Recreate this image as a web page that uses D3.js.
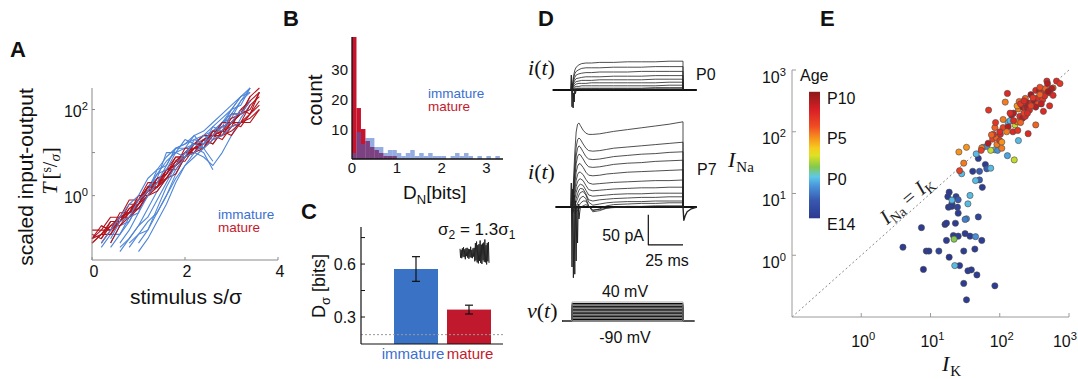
<!DOCTYPE html>
<html>
<head>
<meta charset="utf-8">
<script src="https://cdn.jsdelivr.net/npm/d3@7/dist/d3.min.js"></script>
<style>
html,body{margin:0;padding:0;background:#fff;}
svg{display:block;}
</style>
</head>
<body>
<svg id="fig" width="1078" height="379"></svg>
<script>
// ================= DATA =================
// ---- Panel A: scaled input-output curves T(s/sigma), sampled on sGrid
const sGrid = [0,0.2,0.4,0.6,0.8,1.0,1.2,1.4,1.6,1.8,2.0,2.2,2.4,2.6,2.8,3.0,3.2,3.4,3.6];
const aXTicks = [0,2,4];
const aYTicks = [1,10,100];
const aYExp = ["0","","2"];
const matureCurves = [
  [0.1,0.2,0.158,0.4,0.4,0.79,1.58,1.58,4,5,10,15.8,15.8,31.6,25,50,79,100,251],
  [0.079,0.126,0.2,0.2,0.4,0.5,1,2,2.5,5,10,10,20,15.8,31.6,50,40,79,158],
  [null,0.1,0.2,0.316,0.4,0.79,1.26,2.5,3.16,6.3,10,15.8,15.8,25,40,50,79,158,null],
  [0.126,0.1,0.25,0.25,0.63,0.63,1.58,1.58,4,4,7.9,12.6,15.8,25,20,40,100,79,251],
  [null,null,0.079,0.2,0.316,0.63,1,1.58,2.5,5,7.9,12.6,15.8,25,31.6,40,50,79,126],
  [0.1,0.126,0.126,0.316,0.4,0.63,1.58,1.58,3.16,7.9,7.9,15.8,25,25,50,50,100,158,null],
  [null,0.079,0.158,0.25,0.4,0.5,1,1.58,2.5,5,7.9,10,12.6,20,25,31.6,50,63,100],
  [0.158,0.158,0.316,0.316,0.79,0.79,2,2,4,7.9,7.9,15.8,12.6,31.6,31.6,63,79,200,316],
  [0.1,0.158,0.158,0.316,0.316,0.5,1,1.26,2.5,3.16,7.9,10,20,15.8,31.6,25,50,50,100],
  [null,null,0.126,0.25,0.5,0.79,1.58,2,3.16,6.3,10,12.6,20,25,40,50,79,200,null],
  [0.079,0.126,0.25,0.25,0.5,0.63,1.26,1.58,4,5,12.6,12.6,20,25,25,50,50,126,200],
  [null,0.2,0.158,0.316,0.4,1,1,2.5,3.16,6.3,6.3,12.6,12.6,25,31.6,79,79,158,251]
];
const immatureCurves = [
  [null,null,0.063,0.126,0.25,0.63,1.58,3.16,6.3,10,12.6,15.8,20,31.6,50,79,158,316,null],
  [null,0.063,0.126,0.126,0.316,0.4,1.58,2.5,10,10,20,15.8,25,20,50,63,158,251,null],
  [null,null,null,0.05,0.1,0.2,0.5,1.26,2.5,6.3,10,15.8,25,31.6,50,100,200,null,null],
  [null,null,null,null,0.079,0.126,0.25,0.4,1,3.16,7.9,12.6,10,4,null,null,null,null,null],
  [null,null,0.079,0.2,0.25,0.63,1.26,4,5,12.6,12.6,25,12.6,31.6,40,100,126,316,null],
  [null,null,null,null,null,0.079,0.158,0.4,1,2.5,5,10,7.9,5,10,25,63,126,null],
  [null,0.079,0.158,0.316,0.63,1,2.5,4,7.9,12.6,15.8,20,25,40,63,100,200,251,null],
  [null,null,null,0.063,0.1,0.2,0.316,0.79,2,5,10,15.8,12.6,6.3,null,null,null,null,null],
  [null,null,0.1,0.25,0.316,0.79,1.26,3.16,4,10,7.9,20,15.8,40,31.6,79,79,158,null],
  [null,null,null,null,0.063,0.126,0.158,0.5,1.58,4,7.9,10,15.8,25,40,50,100,null,null],
  [null,null,null,0.079,0.158,0.4,1,2,5,12.6,15.8,25,31.6,50,79,126,200,316,null],
  [null,null,null,null,null,0.05,0.1,0.25,0.63,2,5,7.9,12.6,20,25,40,50,null,null]
];

// ---- Panel B: histograms of D_N (bins of 0.1 bits)
const binWidth = 0.1;
const matureCounts = [45,17,10,6,4,3,2,1,1,1];
const immatureCounts = [2,9,5,7,7,4,4,2,3,3,2,1,2,3,1,2,1,2,1,1,1,0,1,2,1,2,1,0,1,0,1,0,1];
const bXTicks = [0,1,2,3];
const bYTicks = [10,20,30];

// ---- Panel C: D_sigma bars
const groups = ["immature","mature"];
const dSigma = [0.572, 0.342];
const dSigmaErr = [0.07, 0.025];
const chanceLevel = 0.2;
const cYTicks = [0.3,0.45,0.6,0.75];
const cYLabels = ["0.3","","0.6",""];
const noiseTrace = [0.8,-0.9,0.6,-1.0,0.9,-0.7,1.1,-0.8,0.7,-1.2,0.9,-0.6,1.0,-0.9,0.8,-1.1,0.7,-0.8,1.2,-0.9,0.6,-1.0,0.9,-0.7,1.0,
  -1.6,1.9,-1.4,2.2,-1.8,1.5,-2.0,1.7,-1.5,2.4,-1.9,1.6,-2.1,1.8,-1.4,2.0,-1.7,2.6,-1.8,1.5,-2.2,1.9,-1.6,2.1,-1.9];

// ---- Panel D: whole-cell currents (pA) vs time (ms)
const tP0 = [0,1,2,3,5,7,10,14,20,30,40,50,60,70,80,80];
const p0Traces = [
  [0,22,33,38,42,44,45,45,46,46,47,47,47,48,48,0],
  [0,18,27,31,34,36,37,37,37,38,38,38,39,39,39,0],
  [0,14,21,25,27,28,29,29,30,30,30,31,31,31,31,0],
  [0,11,16,19,20,21,22,22,22,23,23,23,24,24,24,0],
  [0,8,12,14,15,16,16,16,17,17,17,17,18,18,18,0],
  [0,5,8,10,11,11,11,12,12,12,12,12,12,13,13,0],
  [0,3,5,6,6,7,7,7,7,7,7,7,7,8,8,0],
  [0,2,3,3,3,3,3,3,3,3,3,3,4,4,4,0],
  [0,1,1,2,2,2,2,2,2,2,2,2,2,2,2,0],
  [0,0,1,1,1,1,1,1,1,1,1,1,1,1,1,0]
];
const spikeP0T = [-1,-0.5,0,0.4,0.8,1.2,1.6,2.0,2.5,3];
const spikeP0V = [0,25,-28,10,-30,-5,-20,2,-6,0];
const tP7 = [0,1,2,3,4,5,6,8,10,12,15,20,25,30,40,50,60,70,80,80];
const p7Traces = [
  [0,40,90,125,138,140,136,128,123,121,121,122,124,126,129,132,135,138,142,0],
  [0,30,70,100,112,115,113,105,98,94,93,94,96,98,100,102,104,106,108,0],
  [0,25,58,85,98,102,100,92,84,80,79,80,82,84,86,88,89,91,92,0],
  [0,20,48,72,84,88,87,80,72,67,66,67,69,71,73,74,76,77,78,0],
  [0,15,38,58,68,72,72,66,58,53,52,53,55,56,58,59,60,61,62,0],
  [0,10,28,44,54,58,58,54,46,40,38,39,40,41,42,43,44,44,45,0],
  [0,6,20,34,42,46,47,44,36,29,27,28,29,30,31,32,32,33,33,0],
  [0,3,12,24,32,36,38,36,28,20,18,19,20,21,22,22,23,23,23,0],
  [0,0,6,14,22,28,31,30,22,12,10,12,13,14,15,16,16,17,17,0],
  [0,-2,2,8,14,20,24,26,20,8,3,5,7,8,9,9,10,10,10,0],
  [0,-4,-2,2,6,10,15,18,14,2,-6,-3,2,4,5,6,6,7,7,0],
  [0,-6,-6,-4,-1,2,6,10,10,2,-8,-6,-2,0,1,1,2,2,2,0],
  [0,-8,-10,-8,-5,-3,-1,2,4,1,-5,-4,-2,-1,0,0,0,0,0,0]
];
const spikeP7T = [-1,-0.5,0,0.5,1,1.5,2,2.5,3,3.5,4,4.5,5,6];
const spikeP7V = [0,40,-100,30,-118,20,-112,10,-90,0,-60,5,-20,0];
const tailP7T = [80,80.6,81.5,83,86,90];
const tailP7V = [0,-22,-15,-8,-3,0];
const stepLevels = [-90,-80,-70,-60,-50,-40,-30,-20,-10,0,10,20,30,40];
const scaleBarT = [55,80];      // 25 ms
const scaleBarI = [-63,-13];    // 50 pA

// ---- Panel E: I_K, I_Na, age (days rel. to birth)
const ikValues = [4.0,7.4,7.9,8.7,9.5,13.2,16.2,17,17,18.6,
  18.2,20.4,24.5,21.4,25.1,22.9,25.1,26.3,30.2,30.2,
  31.6,33.1,34.7,38.9,37.2,43.7,46.8,49,55,85,
  18.6,17.8,23.4,56,40.7,51,51,49,62,65,
  25.1,20.4,34.7,22.4,44.7,33.1,31.6,21.9,20.4,37.2,
  44.7,28.2,45.7,57.5,65,74,85,93,132,141,
  186,129,74,166,162,25.7,26.3,30.2,33.1,55,
  68,91,79,89,100,107,107,81,102,85,
  112,132,178,155,182,257,331,148,195,214,
  234,186,214,234,251,69,87,120,129,178,
  191,234,251,288,316,355,417,427,331,372,
  417,457,525,589,589,479,490,661,741,525,
  282,355,224,158,269,398,302,562,380,200,
  141,112,100,76,54,251,331,200,447,380,
  282,501,158,126,224];
const naValues = [1.35,2.8,0.59,1.17,1.17,1.17,3.16,3.31,1.74,0.93,
  6.0,6.2,6.0,2.09,2.04,3.3,4.8,0.68,1.17,0.35,
  2.24,0.19,0.56,0.58,2.04,1.26,0.48,4.17,1.74,0.32,
  10.5,8.9,8.9,12.6,22.9,22.9,16.6,37,29.5,25.1,
  7.9,6.9,6.8,0.68,2.0,3.9,3.8,1.82,7.8,9.3,
  16.2,20.9,43.7,56,58,25.7,51,50,141,151,
  72,41,50,129,35,47,23.4,31,56,55,
  65,62,76,81,72,68,54,91,91,117,
  117,120,145,100,105,93,129,186,178,166,
  178,234,251,234,245,224,141,302,417,263,
  309,347,295,295,316,355,331,214,468,457,
  417,501,427,513,389,661,603,661,603,263,
  398,282,200,200,224,282,355,501,525,141,
  200,158,100,89,50,200,251,282,380,398,
  263,447,151,100,316];
const ageValues = [-4.5,-4.5,-5,-4.5,-4.5,-4,-4.5,-4.5,-4.5,-5,
  -4.5,-4.5,-4,-4.5,-4.5,-4.5,-4.5,-4.5,-4.5,-4.5,
  -4.5,-4.5,-4.5,-4.5,-4.5,-4.5,-4.5,-4,-4.5,-4.5,
  -4.5,-4.5,-4,-4.5,-4.5,-2.5,-2.5,-4.5,-4.5,-2.5,
  -2.5,-4.5,0,0,-1,-1,-1.5,1.5,0,0,
  0,0,0,0,-1,0,0,-1,0,0,
  0,-0.5,2.5,2.5,2.5,5,7,5.5,5,5.5,
  9.5,5.5,7,6,7.5,5,5.5,8,8,6,
  7,9.5,5.5,8,7.5,8,6,10,8,9.5,
  8,5.5,10,8,9.5,7.5,7.5,5.5,8,5,
  6,6,9.5,8,10,8,7.5,8,8,9.5,
  8,6,7.5,6,8,8,9.5,8,7.5,8,
  10,6.5,7,9.5,8,9,7.5,9.5,6.5,6,
  8,5.5,8,6,7,8,9.5,7.5,8,6,
  7,10,8,5.5,8];
const eTicks = [0.1,1,10,100,1000];
const eExp = ["","0","1","2","3"];
const ageTicks = [-5.5,0,5,10];
const ageLabels = ["E14","P0","P5","P10"];
const cmapAge = [-4.8,-2.6,-0.8,0.3,1.5,2.9,3.8,5.0,6.5,8.5,10.7];
const cmapColor = ["#2b3990","#3858b0","#4a96dc","#5ec9e6","#84c94c","#dfe123","#f6cc1f","#f7941d","#ef4b23","#d81f26","#8b1a1a"];

// ================= DRAWING =================
const svg = d3.select("#fig");
const SANS = '"Liberation Sans", Arial, Helvetica, sans-serif';
const SERIF = '"Liberation Serif", "Times New Roman", serif';
const BLUE_LINE = "#4f86d8", RED_LINE = "#b3141e";
const BLUE_TXT = "#3b6fd0", RED_TXT = "#c41a2c";
const W = 1078;

function txt(x, y, s, o = {}) {
  const t = svg.append("text").attr("x", x).attr("y", y)
    .attr("font-family", o.family || SANS).attr("font-size", o.size || 16)
    .attr("fill", o.fill || "#111").attr("text-anchor", o.anchor || "start");
  if (o.weight) t.attr("font-weight", o.weight);
  if (o.style) t.attr("font-style", o.style);
  if (s != null) t.text(s);
  return t;
}
function powText(x, y, exp, anchor, size) {
  const t = txt(x, y, null, {size: size, anchor: anchor});
  t.append("tspan").text("10");
  t.append("tspan").attr("dy", -7).attr("font-size", size * 0.7).text(exp);
  return t;
}
function hline(x1, x2, y, col, w) {
  svg.append("line").attr("x1", x1).attr("x2", x2).attr("y1", y).attr("y2", y)
    .attr("stroke", col).attr("stroke-width", w || 1);
}
function vline(x, y1, y2, col, w) {
  svg.append("line").attr("x1", x).attr("x2", x).attr("y1", y1).attr("y2", y2)
    .attr("stroke", col).attr("stroke-width", w || 1);
}

// Panel letters
txt(10, 57, "A", {size: 22, weight: "bold"});
txt(283, 26, "B", {size: 22, weight: "bold"});
txt(301, 219, "C", {size: 22, weight: "bold"});
txt(538, 26, "D", {size: 22, weight: "bold"});
txt(820, 26, "E", {size: 22, weight: "bold"});

// ---------- Panel A ----------
const xA = d3.scaleLinear().domain([0, 4]).range([92, 278]);
const yA = d3.scaleLog().domain([0.032, 316]).range([260, 88]);
const lineA = d3.line().defined(d => d[1] != null).x(d => xA(d[0])).y(d => yA(d[1]));
function drawCurve(c, col) {
  svg.append("path").datum(sGrid.map((s, i) => [s, c[i]])).attr("d", lineA)
    .attr("fill", "none").attr("stroke", col).attr("stroke-width", 1.1).attr("stroke-linejoin", "round");
}
immatureCurves.slice(0, 6).forEach(c => drawCurve(c, BLUE_LINE));
matureCurves.forEach(c => drawCurve(c, RED_LINE));
immatureCurves.slice(6).forEach(c => drawCurve(c, BLUE_LINE));
const axCol = "#8a8a8a";
vline(xA(0), yA.range()[0], yA.range()[1], axCol);
hline(xA(0), xA(4), yA.range()[0], axCol);
aXTicks.forEach(v => {
  vline(xA(v), 260, 257, axCol);
  txt(xA(v) + 2, 277, String(v), {size: 16, anchor: "middle"});
});
aYTicks.forEach((v, i) => {
  hline(92, 95, yA(v), axCol);
  if (aYExp[i]) powText(88, yA(v) + 7.5, aYExp[i], "end", 16);
});
txt(0, 0, "scaled input-output", {size: 21, anchor: "middle"}).attr("transform", "translate(33,177) rotate(-90)");
{
  const t = svg.append("text").attr("transform", "translate(57,171) rotate(-90)")
    .attr("text-anchor", "middle").attr("font-family", SERIF).attr("fill", "#111");
  t.append("tspan").attr("font-size", 22).attr("font-style", "italic").text("T");
  t.append("tspan").attr("font-size", 21).attr("dx", 3).text("[");
  t.append("tspan").attr("font-size", 14).attr("dy", -6).text("s");
  t.append("tspan").attr("font-size", 20).attr("dy", 6).text("/");
  t.append("tspan").attr("font-size", 15).attr("font-style", "italic").attr("dy", 3).text("σ");
  t.append("tspan").attr("font-size", 21).attr("dy", -3).text("]");
}
txt(186, 304, "stimulus s/σ", {size: 21, anchor: "middle"});
txt(218, 219, "immature", {size: 13.5, fill: BLUE_TXT});
txt(218, 232, "mature", {size: 13.5, fill: RED_TXT});

// ---------- Panel B ----------
const xB = d3.scaleLinear().domain([0, 3.37]).range([352, 503]);
const yB = d3.scaleLinear().domain([0, 40.7]).range([159, 37]);
const bTop = yB.domain()[1];
svg.append("g").selectAll("rect").data(matureCounts).join("rect")
  .attr("x", (d, i) => xB(i * binWidth)).attr("width", xB(binWidth) - xB(0))
  .attr("y", d => yB(Math.min(d, bTop))).attr("height", d => yB(0) - yB(Math.min(d, bTop)))
  .attr("fill", "#c8132d");
svg.append("g").selectAll("rect").data(immatureCounts).join("rect")
  .attr("x", (d, i) => xB(i * binWidth)).attr("width", xB(binWidth) - xB(0))
  .attr("y", d => yB(d)).attr("height", d => yB(0) - yB(d))
  .attr("fill", "#3d68c6").attr("fill-opacity", 0.55);
vline(352, 37, 159, "#111", 1.3);
hline(352, 503, 159, "#111", 1.3);
bYTicks.forEach(v => txt(348, yB(v) + 5.5, String(v), {size: 15, anchor: "end"}));
bXTicks.forEach(v => txt(xB(v), 173, String(v), {size: 15, anchor: "middle"}));
txt(0, 0, "count", {size: 21, anchor: "middle"}).attr("transform", "translate(322,100) rotate(-90)");
{
  const t = txt(403, 199, null, {size: 19});
  t.append("tspan").text("D");
  t.append("tspan").attr("font-size", 13).attr("dy", 5).text("N");
  t.append("tspan").attr("dy", -5).text("[bits]");
}
txt(428, 98, "immature", {size: 13.5, fill: BLUE_TXT});
txt(428, 111, "mature", {size: 13.5, fill: RED_TXT});

// ---------- Panel C ----------
const yC = d3.scaleLinear().domain([0.147, 0.81]).range([344, 227]);
const xC = d3.scaleBand().domain(groups).range([394, 491]).paddingInner(0.17);
const barCols = ["#3a72c6", "#c0182d"];
groups.forEach((g, i) => {
  svg.append("rect").attr("x", xC(g)).attr("width", xC.bandwidth())
    .attr("y", yC(dSigma[i])).attr("height", yC.range()[0] - yC(dSigma[i])).attr("fill", barCols[i]);
  const cx = xC(g) + xC.bandwidth() / 2;
  vline(cx, yC(dSigma[i] - dSigmaErr[i]), yC(dSigma[i] + dSigmaErr[i]), "#111", 1.2);
  hline(cx - 4, cx + 4, yC(dSigma[i] - dSigmaErr[i]), "#111", 1.2);
  hline(cx - 4, cx + 4, yC(dSigma[i] + dSigmaErr[i]), "#111", 1.2);
  txt(cx + (i === 0 ? -3 : 1), 359, g, {size: 15, anchor: "middle", fill: i === 0 ? BLUE_TXT : RED_TXT});
});
svg.append("line").attr("x1", 361).attr("x2", 503).attr("y1", yC(chanceLevel)).attr("y2", yC(chanceLevel))
  .attr("stroke", "#999").attr("stroke-width", 1).attr("stroke-dasharray", "2,2");
vline(361, 227, 344, "#111", 1.2);
hline(361, 503, 344, "#111", 1.2);
cYTicks.forEach((v, i) => {
  hline(361, 365, yC(v), "#111", 1);
  if (cYLabels[i]) txt(356, yC(v) + 5.5, cYLabels[i], {size: 16, anchor: "end"});
});
{
  const t = svg.append("text").attr("transform", "translate(325,286) rotate(-90)")
    .attr("text-anchor", "middle").attr("font-family", SANS).attr("font-size", 18).attr("fill", "#111");
  t.append("tspan").text("D");
  t.append("tspan").attr("font-size", 13).attr("dy", 5).text("σ");
  t.append("tspan").attr("dy", -5).text(" [bits]");
}
{
  const t = txt(438, 235, null, {size: 17});
  t.append("tspan").text("σ");
  t.append("tspan").attr("font-size", 12).attr("dy", 4).text("2");
  t.append("tspan").attr("dy", -4).text(" = 1.3σ");
  t.append("tspan").attr("font-size", 12).attr("dy", 4).text("1");
}
const xN = d3.scaleLinear().domain([0, noiseTrace.length - 1]).range([460, 489]);
const yN = d3.scaleLinear().domain([-2.5, 2.5]).range([266, 240]);
svg.append("path").datum(noiseTrace).attr("d", d3.line().x((d, i) => xN(i)).y(d => yN(d)))
  .attr("fill", "none").attr("stroke", "#222").attr("stroke-width", 1);

// ---------- Panel D ----------
const xD = d3.scaleLinear().domain([0, 80]).range([572, 683]);
const yP0 = d3.scaleLinear().domain([-40, 60]).range([114, 54]);
const yP7 = d3.scaleLinear().domain([-120, 150]).range([279, 117]);
const yV = d3.scaleLinear().domain([-90, 40]).range([321, 302]);
const trCol = "#222";
function trace(ts, vs, ys, w, col) {
  svg.append("path").datum(ts.map((t, i) => [t, vs[i]]))
    .attr("d", d3.line().x(d => xD(d[0])).y(d => ys(d[1])))
    .attr("fill", "none").attr("stroke", col || trCol).attr("stroke-width", w || 0.8).attr("stroke-linejoin", "round");
}
// P0
trace([-14, 90], [0, 0], yP0, 2.2, "#111");
p0Traces.forEach(v => trace(tP0, v, yP0, 0.8));
trace(spikeP0T, spikeP0V, yP0, 1);
// P7
trace([-12, 90], [0, 0], yP7, 2.2, "#111");
p7Traces.forEach(v => trace(tP7, v, yP7, 0.8));
trace(spikeP7T, spikeP7V, yP7, 1);
trace(tailP7T, tailP7V, yP7, 1.4);
// scale bar
trace([scaleBarT[0], scaleBarT[0], scaleBarT[1]], [scaleBarI[1], scaleBarI[0], scaleBarI[0]], yP7, 1.2, "#111");
txt(644, 241, "50 pA", {size: 16, anchor: "end"});
txt(667, 266, "25 ms", {size: 16, anchor: "middle"});
// voltage steps
trace([-7, 88], [-90, -90], yV, 1.2, "#111");
stepLevels.slice(1).forEach((v, i, arr) => {
  trace([-7, 0, 0, 80, 80, 88], [-90, -90, v, v, -90, -90], yV, 1, i === arr.length - 1 ? "#aaa" : "#000");
});
txt(625, 297, "40 mV", {size: 16, anchor: "middle"});
txt(625, 343, "-90 mV", {size: 16, anchor: "middle"});
function fnLabel(x, y, f) {
  const t = txt(x, y, null, {size: 22, family: SERIF});
  t.append("tspan").attr("font-style", "italic").text(f);
  t.append("tspan").text("(");
  t.append("tspan").attr("font-style", "italic").text("t");
  t.append("tspan").text(")");
}
fnLabel(528, 75, "i");
fnLabel(528, 179, "i");
fnLabel(527, 318, "v");
txt(696, 80, "P0", {size: 16});
txt(697, 175, "P7", {size: 16});

// ---------- Panel E ----------
const xE = d3.scaleLog().domain([0.1, 1000]).range([792, 1069]);
const yE = d3.scaleLog().domain([0.1, 1000]).range([317, 70]);
const eAx = "#9a9a9a";
svg.append("line").attr("x1", xE(0.1)).attr("y1", yE(0.1)).attr("x2", xE(1000)).attr("y2", yE(1000))
  .attr("stroke", "#888").attr("stroke-width", 1).attr("stroke-dasharray", "2,2.5");
vline(792, 70, 317, eAx);
hline(792, 1069, 317, eAx);
eTicks.forEach((v, i) => {
  if (!eExp[i]) return;
  hline(792, 796, yE(v), eAx);
  vline(xE(v), 317, 313, eAx);
  powText(786, yE(v) + 12.5, eExp[i], "end", 16);
  const lx = Math.min(xE(v) + 14, W - 1);
  powText(lx, 347, eExp[i], "end", 16);
});
const ageColor = d3.scaleLinear().domain(cmapAge).range(cmapColor).interpolate(d3.interpolateRgb);
svg.append("g").selectAll("circle").data(ikValues.map((k, i) => i)).join("circle")
  .attr("cx", i => xE(ikValues[i])).attr("cy", i => yE(naValues[i])).attr("r", 3.1)
  .attr("fill", i => ageColor(ageValues[i])).attr("stroke", "#4a4a4a").attr("stroke-width", 0.6);
// colorbar
const yAge = d3.scaleLinear().domain([-5.5, 10]).range([224, 97.5]);
const aMin = cmapAge[0], aMax = cmapAge[cmapAge.length - 1];
const grad = svg.append("defs").append("linearGradient").attr("id", "ageGrad")
  .attr("x1", 0).attr("y1", 1).attr("x2", 0).attr("y2", 0);
cmapAge.forEach((a, i) => grad.append("stop").attr("offset", (a - aMin) / (aMax - aMin)).attr("stop-color", cmapColor[i]));
svg.append("rect").attr("x", 809).attr("width", 11).attr("y", yAge(aMax)).attr("height", yAge(aMin) - yAge(aMax))
  .attr("fill", "url(#ageGrad)");
ageTicks.forEach((a, i) => txt(827, yAge(a) + 6, ageLabels[i], {size: 16}));
txt(800, 81, "Age", {size: 16});
{
  const t = txt(728, 167, null, {size: 22, family: SERIF});
  t.append("tspan").attr("font-style", "italic").text("I");
  t.append("tspan").attr("font-size", 15).attr("dy", 5).attr("dx", 1).text("Na");
}
{
  const t = txt(942, 371, null, {size: 22, family: SERIF});
  t.append("tspan").attr("font-style", "italic").text("I");
  t.append("tspan").attr("font-size", 15).attr("dy", 5).attr("dx", 1).text("K");
}
{
  const t = svg.append("text").attr("transform", "translate(911,205) rotate(-40)")
    .attr("text-anchor", "middle").attr("font-family", SERIF).attr("font-size", 21).attr("fill", "#222");
  t.append("tspan").attr("font-style", "italic").text("I");
  t.append("tspan").attr("font-size", 14).attr("dy", 4).text("Na");
  t.append("tspan").attr("dy", -4).text(" = ");
  t.append("tspan").attr("font-style", "italic").text("I");
  t.append("tspan").attr("font-size", 14).attr("dy", 4).text("K");
}
</script>
</body>
</html>
